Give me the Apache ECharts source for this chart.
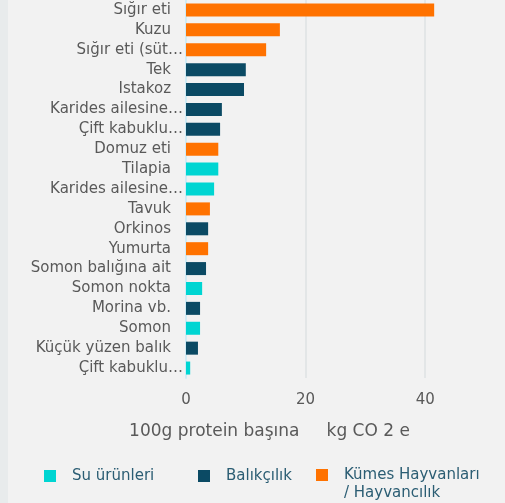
<!DOCTYPE html>
<html>
<head>
<meta charset="utf-8">
<script src="https://cdn.jsdelivr.net/npm/echarts@6/dist/echarts.min.js"></script>
<style>
  html, body { margin: 0; padding: 0; background: #f2f2f2; }
  #chart { width: 505px; height: 503px; }
</style>
</head>
<body>
<div id="chart"></div>
<script>
// kategoriler (yukarıdan aşağıya)
const categories = [
  'Sığır eti', 'Kuzu', 'Sığır eti (süt…', 'Tek', 'Istakoz', 'Karides ailesine…',
  'Çift kabuklu…', 'Domuz eti', 'Tilapia', 'Karides ailesine…', 'Tavuk', 'Orkinos',
  'Yumurta', 'Somon balığına ait', 'Somon nokta', 'Morina vb.', 'Somon',
  'Küçük yüzen balık', 'Çift kabuklu…'
];
// hangi gruba ait: 0 su ürünleri, 1 balıkçılık, 2 kümes hayvanları / hayvancılık
const groups = [2, 2, 2, 1, 1, 1, 1, 2, 0, 0, 2, 1, 2, 1, 0, 1, 0, 1, 0];
const values = [41.5, 15.7, 13.4, 10.0, 9.7, 6.0, 5.7, 5.4, 5.4, 4.7, 4.0, 3.7, 3.7, 3.35, 2.7, 2.35, 2.35, 2.0, 0.7];
const seriesNames = ['Su ürünleri', 'Balıkçılık', 'Kümes Hayvanları\n/ Hayvancılık'];
const colors = ['#00d5d2', '#0b4a64', '#ff7200'];
const xTicks = [0, 20, 40];

const chart = echarts.init(document.getElementById('chart'));

const font = '"DejaVu Sans", sans-serif';

const series = seriesNames.map((name, g) => ({
  name: name,
  type: 'bar',
  stack: 'all',
  barWidth: 13,
  itemStyle: { color: colors[g] },
  data: values.map((v, i) => groups[i] === g ? v : null)
}));

const legendLeft = [44, 198, 316];
// iki satırlı etikette kare ilk satırla hizalı kalsın diye uzun kutu
const tallIcon = 'path://M0,0L12,0L12,12L0,12Z M0,30L0.01,30L0,30Z';

const option = {
  backgroundColor: '#f2f2f2',
  animation: false,
  graphic: [
    { type: 'rect', left: 0, top: 0, shape: { width: 8, height: 503 }, style: { fill: '#e8ebec' }, z: -1 }
  ],
  grid: { left: 186, right: 20, top: 0, bottom: 125 },
  legend: seriesNames.map((name, g) => ({
    data: [name],
    left: legendLeft[g],
    top: g === 2 ? 466 : 467,
    padding: 0,
    itemWidth: 12,
    itemHeight: g === 2 ? 30 : 12,
    itemGap: 0,
    icon: g === 2 ? tallIcon : 'rect',
    selectedMode: false,
    textStyle: {
      color: '#2b5d73',
      fontFamily: font,
      fontSize: 15,
      lineHeight: 18,
      padding: [0, 0, 0, 11]
    }
  })),
  xAxis: {
    type: 'value',
    min: 0,
    max: 50,
    interval: 20,
    name: '100g protein başına     kg CO 2 e',
    nameLocation: 'middle',
    nameGap: 45,
    nameTextStyle: { color: '#595959', fontFamily: font, fontSize: 17, padding: [0, 132, 0, 0] },
    axisLine: { show: false },
    axisTick: { show: false },
    axisLabel: {
      color: '#595959', fontFamily: font, fontSize: 15, margin: 15,
      formatter: v => xTicks.includes(v) ? String(v) : ''
    },
    splitLine: { show: true, showMaxLine: false, lineStyle: { color: '#e3e6e7', width: 2 } }
  },
  yAxis: {
    type: 'category',
    inverse: true,
    data: categories,
    axisLine: { show: true, lineStyle: { color: '#d0ecf6', width: 2 } },
    axisTick: { show: false },
    axisLabel: {
      margin: 3,
      formatter: v => v.endsWith('…') ? '{e|' + v + '}' : '{n|' + v + '}',
      rich: {
        n: { color: '#595959', fontFamily: font, fontSize: 15, padding: [0, 12, 0, 0] },
        e: { color: '#595959', fontFamily: font, fontSize: 15 }
      }
    },
    splitLine: { show: false }
  },
  series: series
};

chart.setOption(option);
</script>
</body>
</html>
